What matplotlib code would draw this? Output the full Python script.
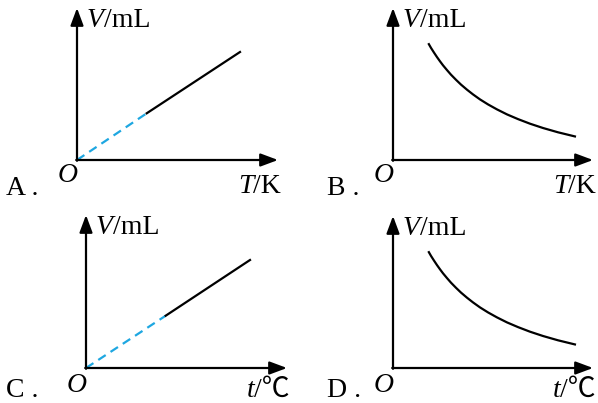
import matplotlib
matplotlib.use('Agg')
from matplotlib import pyplot as plt

plt.rcParams['font.family'] = ['Liberation Serif', 'Noto Sans CJK SC']

W, H = 598, 403

# panel data (offsets from each origin, in picture pixels)
panel_names = ['A .', 'B .', 'C .', 'D .']
x_italic = ['T', 'T', 't', 't']
x_rest = ['/K', '/K', '/℃', '/℃']
origins = [(77, 160), (393, 160), (86, 368), (393, 368)]
x_len = [201, 200, 201, 200]
y_len = [152, 152, 153, 152]

# straight line panels (A, C): dashed extrapolation + solid measured part
dash_A_x = [0, 69.7]
dash_A_y = [0, 46.7]
solid_A_x = [69.7, 163]
solid_A_y = [46.7, 108]
dash_C_x = [0, 79.7]
dash_C_y = [0, 52.3]
solid_C_x = [79.7, 164]
solid_C_y = [52.3, 108]

# decreasing curve (B, D)
curve_x = [35.3, 38, 41, 44, 47, 50, 54, 58, 63, 68, 74, 80, 87, 95, 104, 114,
           125, 137, 150, 165, 183]
curve_y = [116.8, 112.1, 107.4, 102.9, 98.7, 94.7, 89.9, 85.3, 80.2, 75.4, 70.3,
           65.6, 60.6, 55.6, 50.6, 45.6, 40.9, 36.3, 32.0, 27.7, 23.3]

fig = plt.figure(figsize=(W / 100, H / 100), dpi=100)
fig.set_facecolor('white')

lw = 1.6
fs = 20
blue = '#1ea7e1'


def title_left(ax, x, y, it, rest):
    t = ax.text(x, y, it, fontsize=fs, style='italic', ha='left', va='baseline', clip_on=False)
    ax.annotate(rest, xy=(1, 0), xycoords=t, fontsize=fs, ha='left', va='bottom',
                annotation_clip=False)


def title_right(ax, x, y, it, rest):
    t = ax.text(x, y, rest, fontsize=fs, ha='right', va='baseline', clip_on=False)
    ax.annotate(it, xy=(0, 0), xycoords=t, fontsize=fs, style='italic', ha='right',
                va='bottom', annotation_clip=False)


for i in range(4):
    ox, oy = origins[i]
    ax = fig.add_axes([ox / W, (H - oy) / H, x_len[i] / W, y_len[i] / H])
    ax.set_xlim(0, x_len[i])
    ax.set_ylim(0, y_len[i])
    ax.axis('off')

    # axes with arrowheads
    arr = dict(arrowstyle='-|>,head_length=0.75,head_width=0.28', lw=lw, color='k',
               shrinkA=0, shrinkB=0, mutation_scale=14)
    ax.annotate('', xy=(x_len[i], 0), xytext=(-0.8, 0), arrowprops=arr, annotation_clip=False)
    ax.annotate('', xy=(0, y_len[i]), xytext=(0, -0.8), arrowprops=arr, annotation_clip=False)

    if i == 0:
        ax.plot(dash_A_x, dash_A_y, color=blue, lw=lw, dashes=(4, 2.6), clip_on=False)
        ax.plot(solid_A_x, solid_A_y, color='k', lw=lw, clip_on=False)
    elif i == 2:
        ax.plot(dash_C_x, dash_C_y, color=blue, lw=lw, dashes=(4, 2.6), clip_on=False)
        ax.plot(solid_C_x, solid_C_y, color='k', lw=lw, clip_on=False)
    else:
        ax.plot(curve_x, curve_y, color='k', lw=lw, clip_on=False, solid_capstyle='butt')

    top = i < 2
    title_left(ax, 10, y_len[i] - 19, 'V', '/mL')
    ax.text(-9, -16 if top else -17, 'O', fontsize=fs, style='italic', ha='center',
            va='center', clip_on=False)
    title_right(ax, x_len[i] + 3, -33 if top else -29, x_italic[i], x_rest[i])
    ax.text(-ox + 6 if i % 2 == 0 else -ox + 327, -35 if top else -29, panel_names[i],
            fontsize=fs, ha='left', va='baseline', clip_on=False)

fig.savefig('out.png', dpi=100)
